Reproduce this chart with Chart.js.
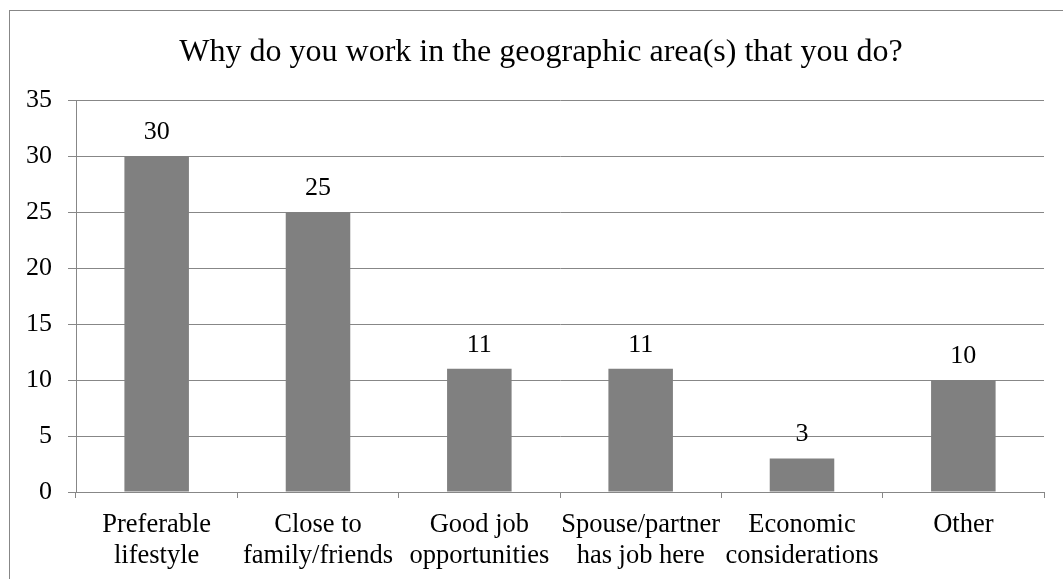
<!DOCTYPE html>
<html>
<head>
<meta charset="utf-8">
<title>Why do you work in the geographic area(s) that you do?</title>
<script src="https://cdn.jsdelivr.net/npm/chart.js@4/dist/chart.umd.min.js"></script>
<style>
  html, body { margin: 0; padding: 0; background: #fff; overflow: hidden; }
  #wrap { position: relative; width: 1063px; height: 579px; }
  #frame {
    position: absolute; left: 9px; top: 10px; width: 1100px; height: 620px;
    border: 1px solid #878787; box-sizing: border-box; pointer-events: none;
  }
</style>
</head>
<body>
<div id="wrap">
  <canvas id="chart"></canvas>
  <div id="frame"></div>
</div>
<script>
const chartTitle = 'Why do you work in the geographic area(s) that you do?'
const categories = [
  ['Preferable', 'lifestyle'],
  ['Close to', 'family/friends'],
  ['Good job', 'opportunities'],
  ['Spouse/partner', 'has job here'],
  ['Economic', 'considerations'],
  ['Other']
]
const responses = [30, 25, 11, 11, 3, 10]
const yMin = 0
const yMax = 35
const yStep = 5

const serif = "'Liberation Serif', 'Times New Roman', serif"
const lineGray = '#878787'

Chart.defaults.font.family = serif

// title centred on the frame rather than on the plot, so it is drawn by hand
const frameTitle = {
  id: 'frameTitle',
  afterDraw(chart) {
    const ctx = chart.ctx
    ctx.save()
    ctx.font = `32px ${serif}`
    ctx.fillStyle = '#000'
    ctx.textAlign = 'center'
    ctx.textBaseline = 'alphabetic'
    ctx.fillText(chartTitle, 541, 61)
    ctx.restore()
  }
}

// writes each bar's value just above it
const valueLabels = {
  id: 'valueLabels',
  afterDatasetsDraw(chart) {
    const ctx = chart.ctx
    const meta = chart.getDatasetMeta(0)
    ctx.save()
    ctx.font = `26px ${serif}`
    ctx.fillStyle = '#000'
    ctx.textAlign = 'center'
    ctx.textBaseline = 'alphabetic'
    meta.data.forEach((bar, i) => {
      ctx.fillText(String(chart.data.datasets[0].data[i]), bar.x, bar.y - 17)
    })
    ctx.restore()
  }
}

function draw() {
  new Chart(document.getElementById('chart'), {
    type: 'bar',
    data: {
      labels: categories,
      datasets: [{
        data: responses,
        backgroundColor: '#808080',
        borderWidth: 0,
        barPercentage: 0.4,
        categoryPercentage: 1
      }]
    },
    options: {
      responsive: true,
      maintainAspectRatio: false,
      animation: false,
      layout: { padding: { left: 0, right: 19, top: 100, bottom: 0 } },
      plugins: {
        legend: { display: false },
        tooltip: { enabled: false },
        title: { display: false }
      },
      scales: {
        x: {
          grid: {
            offset: true,
            drawOnChartArea: false,
            drawTicks: true,
            tickLength: 6,
            color: lineGray
          },
          border: { color: lineGray },
          ticks: {
            color: '#000',
            padding: 12,
            maxRotation: 0,
            autoSkip: false,
            font: { family: serif, size: 26.5, lineHeight: 1.17 }
          },
          afterFit(scale) { scale.height = 87 }
        },
        y: {
          min: yMin,
          max: yMax,
          grid: { color: lineGray, tickLength: 8 },
          border: { color: lineGray },
          ticks: {
            stepSize: yStep,
            color: '#000',
            padding: 16,
            font: { family: serif, size: 26 }
          },
          afterFit(scale) { scale.width = 76 }
        }
      }
    },
    plugins: [valueLabels, frameTitle]
  })
}

document.fonts.load("26px 'Liberation Serif'").then(draw, draw)
</script>
</body>
</html>
